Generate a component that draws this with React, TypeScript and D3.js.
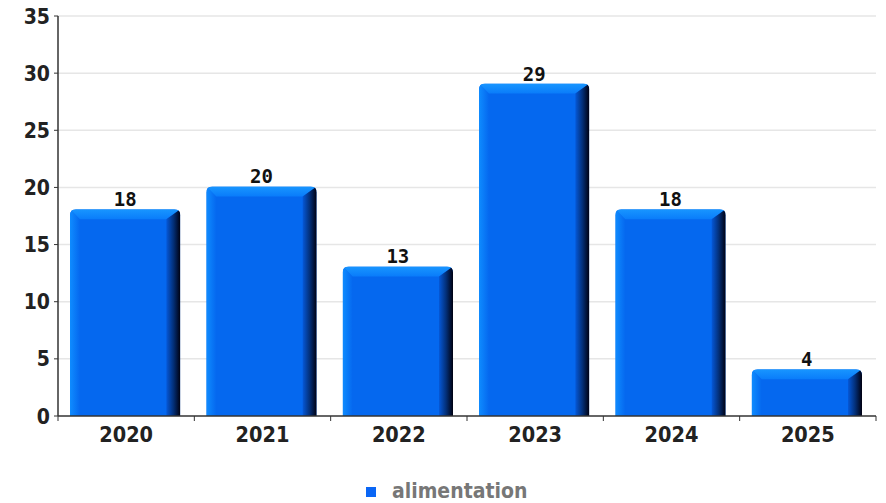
import React from "react";
import * as d3 from "d3";

const categories = ["2020", "2021", "2022", "2023", "2024", "2025"];
const values = [18, 20, 13, 29, 18, 4];
const yTicks = [0, 5, 10, 15, 20, 25, 30, 35];
const seriesName = "alimentation";

const W = 886, H = 503;
const left = 58, right = 876, top = 16, bottom = 416;

export default function App() {
  const xb = d3.scaleBand<string>().domain(categories).range([left, right]);
  const y = d3.scaleLinear().domain([0, 35]).range([bottom, top]);
  const font = "'DejaVu Sans Condensed', 'DejaVu Sans', sans-serif";
  const mono = "'DejaVu Sans Mono', monospace";
  const bev = 10, side = 14, r = 6;
  const padL = 12, padR = 14;
  return (
    <svg width={W} height={H} style={{ position: "absolute", left: 0, top: 0 }}>
      <defs>
        <linearGradient id="leftG" x1="0" x2="1" y1="0" y2="0">
          <stop offset="0" stopColor="#0f8cff" />
          <stop offset="1" stopColor="#0568ef" />
        </linearGradient>
        <linearGradient id="topG" x1="0" x2="0" y1="0" y2="1">
          <stop offset="0" stopColor="#1896ff" />
          <stop offset="1" stopColor="#0a7cfa" />
        </linearGradient>
        <linearGradient id="rightG" x1="0" x2="1" y1="0" y2="0">
          <stop offset="0" stopColor="#0558d8" />
          <stop offset="0.5" stopColor="#03307a" />
          <stop offset="1" stopColor="#000010" />
        </linearGradient>
      </defs>
      {yTicks.map((t) => (
        <g key={t}>
          {t > 0 && <line x1={left} x2={right} y1={y(t)} y2={y(t)} stroke="#e6e6e6" strokeWidth={1.5} />}
          <line x1={left - 4} x2={left} y1={y(t)} y2={y(t)} stroke="#333" />
          <text x={left - 8} y={y(t) + 7.5} textAnchor="end" fontFamily={font} fontStretch="condensed" fontSize={21} fontWeight="bold" fill="#222">{t}</text>
        </g>
      ))}
      {categories.map((c, i) => {
        const x0 = xb(c)! + padL, x1 = xb(c)! + xb.bandwidth() - padR;
        const y0 = y(values[i]) - 1, yb = bottom;
        const id = `clip${i}`;
        return (
          <g key={c}>
            <clipPath id={id}>
              <path d={`M${x0},${yb} L${x0},${y0 + r} Q${x0},${y0} ${x0 + r},${y0} L${x1 - r},${y0} Q${x1},${y0} ${x1},${y0 + r} L${x1},${yb} Z`} />
            </clipPath>
            <g clipPath={`url(#${id})`}>
              <rect x={x0} y={y0} width={x1 - x0} height={yb - y0} fill="#0568ef" />
              <polygon points={`${x0},${y0} ${x0 + bev},${y0 + bev} ${x0 + bev},${yb} ${x0},${yb}`} fill="url(#leftG)" />
              <polygon points={`${x0},${y0} ${x1},${y0} ${x1 - side},${y0 + bev} ${x0 + bev},${y0 + bev}`} fill="url(#topG)" />
              <polygon points={`${x1 - side},${y0 + bev} ${x1},${y0} ${x1},${yb} ${x1 - side},${yb}`} fill="url(#rightG)" />
            </g>
            <text x={(x0 + x1) / 2} y={y(values[i]) - 4} textAnchor="middle" fontFamily={mono} fontSize={19} fontWeight="bold" fill="#111">{values[i]}</text>
            <text x={xb(c)! + xb.bandwidth() / 2} y={442} textAnchor="middle" fontFamily={font} fontStretch="condensed" fontSize={21.5} fontWeight="bold" fill="#222">{c}</text>
          </g>
        );
      })}
      {[...categories.map((c) => xb(c)!), right].map((tx, i) => (
        <line key={i} x1={tx} x2={tx} y1={bottom} y2={bottom + 5} stroke="#333" />
      ))}
      <line x1={left} x2={left} y1={top} y2={bottom} stroke="#333" strokeWidth={1.5} />
      <line x1={left} x2={right} y1={bottom} y2={bottom} stroke="#333" strokeWidth={1.5} />
      <rect x={366} y={487} width={10} height={10} fill="#0a66f5" />
      <text x={392} y={498} fontFamily={font} fontStretch="condensed" fontSize={21} fontWeight="bold" fill="#777">{seriesName}</text>
    </svg>
  );
}
